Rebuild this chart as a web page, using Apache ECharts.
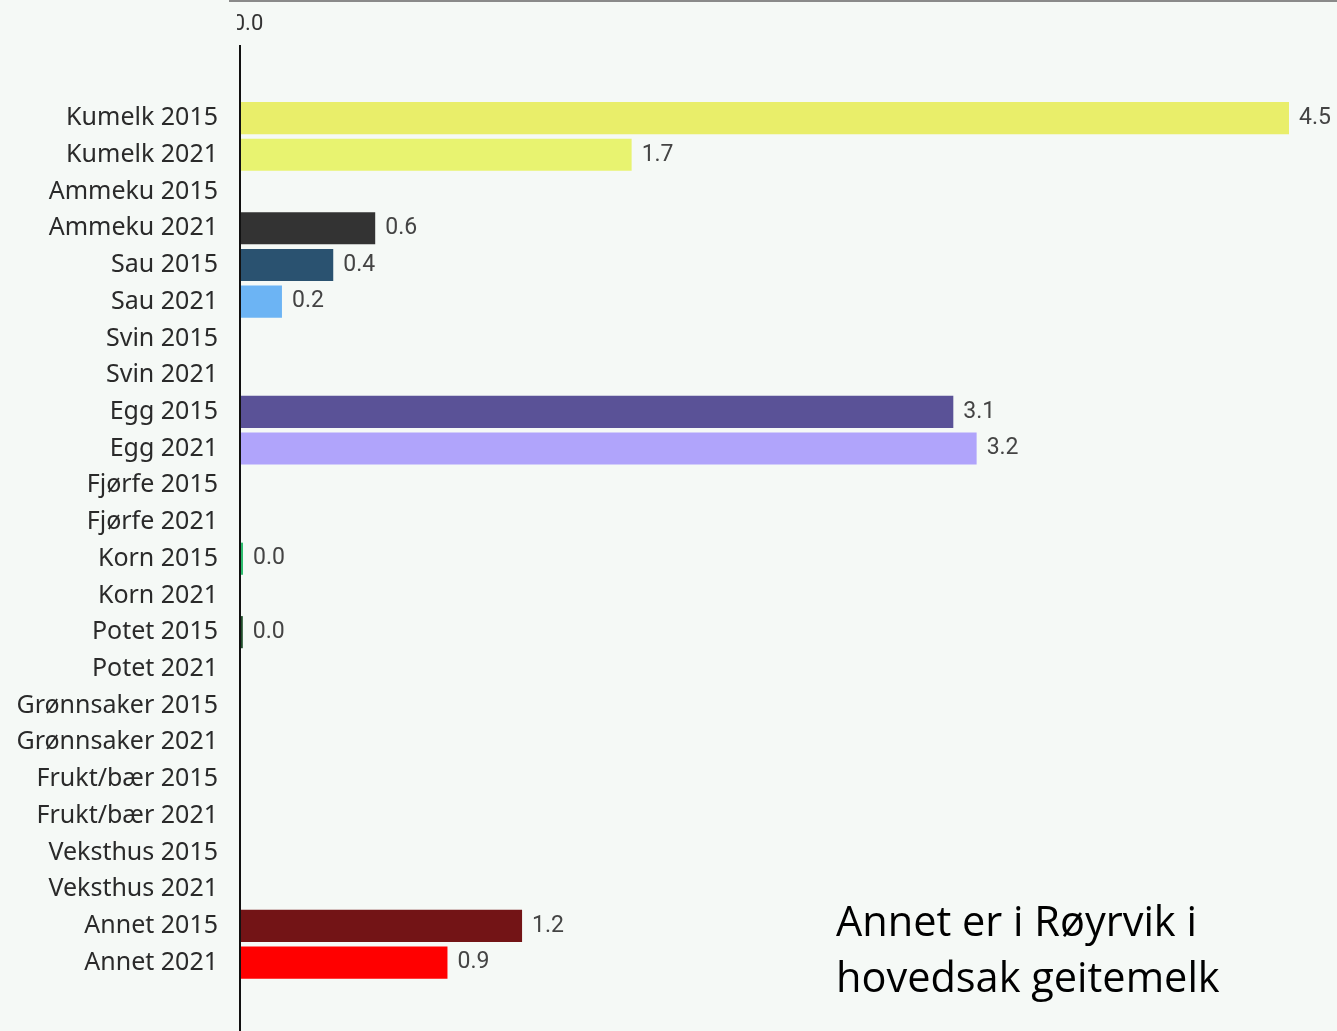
<!DOCTYPE html>
<html>
<head>
<meta charset="utf-8">
<script src="https://cdn.jsdelivr.net/npm/echarts@6/dist/echarts.min.js"></script>
<style>
  html, body { margin: 0; padding: 0; background: #f5f9f6; }
  #chart { width: 1337px; height: 1031px; }
</style>
</head>
<body>
<div id="chart"></div>
<script>
const categories = [
  "Kumelk 2015", "Kumelk 2021", "Ammeku 2015", "Ammeku 2021",
  "Sau 2015", "Sau 2021", "Svin 2015", "Svin 2021",
  "Egg 2015", "Egg 2021", "Fjørfe 2015", "Fjørfe 2021",
  "Korn 2015", "Korn 2021", "Potet 2015", "Potet 2021",
  "Grønnsaker 2015", "Grønnsaker 2021", "Frukt/bær 2015", "Frukt/bær 2021",
  "Veksthus 2015", "Veksthus 2021", "Annet 2015", "Annet 2021"
];
// null = no bar drawn
const values = [
  4.5, 1.68, null, 0.58,
  0.4, 0.18, null, null,
  3.06, 3.16, null, null,
  0.013, null, 0.012, null,
  null, null, null, null,
  null, null, 1.21, 0.89
];
const barColors = [
  "#e9ee6a", "#e8f370", "#cccccc", "#333333",
  "#2a5270", "#6cb4f4", "#999999", "#999999",
  "#5a5297", "#b0a4fb", "#999999", "#999999",
  "#2ebd6e", "#999999", "#1f4d2a", "#999999",
  "#999999", "#999999", "#999999", "#999999",
  "#999999", "#999999", "#731416", "#ff0000"
];
const xTickValues = [0];
const note = "Annet er i Røyrvik i\nhovedsak geitemelk";

var myChart = echarts.init(document.getElementById("chart"));
var option = {
  backgroundColor: "#f5f9f6",
  animation: false,
  grid: {
    left: 240,
    right: 48,
    top: 99.7,
    bottom: 50,
  },
  xAxis: {
    type: "value",
    position: "top",
    min: 0,
    max: 4.5,
    splitLine: { show: false },
    axisLine: { show: false },
    axisTick: { show: false },
    axisLabel: {
      customValues: xTickValues,
      margin: 64,
      fontSize: 22,
      fontFamily: "Roboto",
      color: "#333",
      formatter: (v) => "{a|" + v.toFixed(1) + "}",
      rich: { a: { padding: [0, 0, 0, 16], fontSize: 22, fontFamily: "Roboto", color: "#333" } },
    },
  },
  yAxis: {
    type: "category",
    inverse: true,
    data: categories,
    axisLine: { show: false },
    axisTick: { show: false },
    axisLabel: {
      margin: 22,
      fontSize: 25,
      fontFamily: "Noto Sans",
      color: "#2a2a2a",
    },
  },
  series: [
    {
      type: "bar",
      barCategoryGap: "12.5%",
      data: values.map((v, i) => ({
        value: v,
        itemStyle: { color: barColors[i] },
      })),
      label: {
        show: true,
        position: "right",
        distance: 10,
        fontSize: 23,
        fontFamily: "Roboto",
        color: "#444",
        formatter: (p) => (p.value == null ? "" : p.value.toFixed(1)),
      },
    },
  ],
  graphic: [
    {
      type: "line",
      shape: { x1: 229, y1: 1, x2: 1337, y2: 1 },
      style: { stroke: "#8a8a8a", lineWidth: 2 },
    },
    {
      type: "rect",
      shape: { x: 215, y: 8, width: 22, height: 34 },
      style: { fill: "#f5f9f6" },
      z: 100,
    },
    {
      type: "line",
      shape: { x1: 240, y1: 45, x2: 240, y2: 1031 },
      style: { stroke: "#111", lineWidth: 2 },
      z: 100,
    },
    {
      type: "text",
      left: 836,
      top: 896,
      style: {
        text: note,
        fontSize: 41.5,
        fontFamily: "Open Sans",
        lineHeight: 56,
        fill: "#000",
      },
    },
  ],
};
myChart.setOption(option);
</script>
</body>
</html>
